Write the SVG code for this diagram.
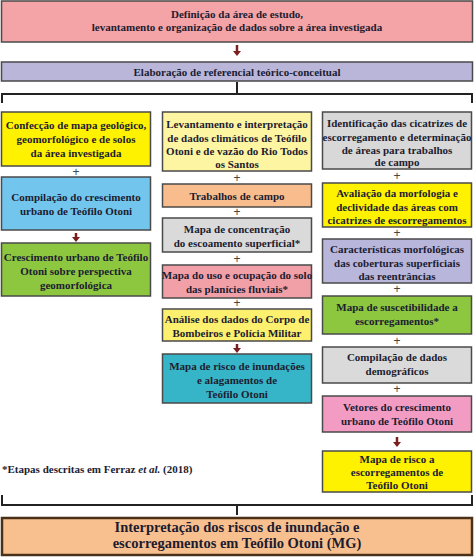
<svg xmlns="http://www.w3.org/2000/svg" width="474" height="557" viewBox="0 0 474 557">
<style>
.b{stroke:#4a4a4a;stroke-width:1.5}
.t{font-family:"Liberation Serif","Times New Roman",serif;font-weight:bold;font-size:11px;fill:#1c1c30;text-anchor:middle}
.p{font-family:"Liberation Sans",Arial,sans-serif;font-size:12px;fill:#444;text-anchor:middle}
.c{stroke:#222;stroke-width:2;fill:none}
.a{stroke:#7a1f1f;stroke-width:2.5;fill:none}
</style>
<rect width="474" height="557" fill="#fff"/>
<g id="connectors">
<line class="a" x1="237" y1="45" x2="237" y2="52"/><path d="M233,51 L241,51 L237,56 z" fill="#7a1f1f"/>
<path class="c" d="M237,82 V94 M2,103 V94 H472 V103"/>
<path class="c" d="M2,495 V505 H472 V495 M237,505 V515"/>
<line class="a" x1="76" y1="233" x2="76" y2="238"/><path d="M72,237 L80,237 L76,242 z" fill="#7a1f1f"/>
<line class="a" x1="237" y1="344" x2="237" y2="349"/><path d="M233,348 L241,348 L237,353 z" fill="#7a1f1f"/>
<line class="a" x1="397" y1="437" x2="397" y2="443"/><path d="M393,442 L401,442 L397,447 z" fill="#7a1f1f"/>
<text class="p" x="76" y="176">+</text>
<text class="p" x="237" y="182">+</text>
<text class="p" x="237" y="216">+</text>
<text class="p" x="237" y="263">+</text>
<text class="p" x="237" y="307">+</text>
<text class="p" x="397" y="180">+</text>
<text class="p" x="397" y="237">+</text>
<text class="p" x="397" y="293">+</text>
<text class="p" x="397" y="345">+</text>
<text class="p" x="397" y="393">+</text>
</g>
<g id="n_top"><rect class="b" x="1.5" y="1" width="471" height="41" fill="#f4a3a6"/>
<text class="t" x="237" y="18">Definição da área de estudo,</text>
<text class="t" x="237" y="31">levantamento e organização de dados sobre a área investigada</text></g>
<g id="n_ref"><rect class="b" x="1.5" y="62" width="471" height="19" fill="#b9b6da"/>
<text class="t" x="237" y="75.5">Elaboração de referencial teórico-conceitual</text></g>

<g id="n_l1"><rect class="b" x="1.5" y="112" width="149" height="54" fill="#fff200"/>
<text class="t" x="76" y="129">Confecção de mapa geológico,</text>
<text class="t" x="76" y="143">geomorfológico e de solos</text>
<text class="t" x="76" y="157">da área investigada</text></g>
<g id="n_l2"><rect class="b" x="1.5" y="177" width="149" height="53" fill="#72c6ee"/>
<text class="t" x="76" y="201">Compilação do crescimento</text>
<text class="t" x="76" y="215">urbano de Teófilo Otoni</text></g>
<g id="n_l3"><rect class="b" x="1.5" y="243" width="149" height="53" fill="#8dc63f"/>
<text class="t" x="76" y="261">Crescimento urbano de Teófilo</text>
<text class="t" x="76" y="275">Otoni sobre perspectiva</text>
<text class="t" x="76" y="289">geomorfológica</text></g>

<g id="n_m1"><rect class="b" x="162.5" y="112" width="149" height="59" fill="#fdf5a2"/>
<text class="t" x="237" y="128">Levantamento e interpretação</text>
<text class="t" x="237" y="141.5">de dados climáticos de Teófilo</text>
<text class="t" x="237" y="155">Otoni  e de vazão do Rio Todos</text>
<text class="t" x="237" y="168">os Santos</text></g>
<g id="n_m2"><rect class="b" x="162.5" y="184" width="149" height="23" fill="#f9bc8c"/>
<text class="t" x="237" y="199.5">Trabalhos de campo</text></g>
<g id="n_m3"><rect class="b" x="162.5" y="218" width="149" height="34" fill="#dadada"/>
<text class="t" x="237" y="233">Mapa de concentração</text>
<text class="t" x="237" y="247">do escoamento superficial*</text></g>
<g id="n_m4"><rect class="b" x="162.5" y="265" width="149" height="33" fill="#f1a0a8"/>
<text class="t" x="237" y="279">Mapa do uso e ocupação do solo</text>
<text class="t" x="237" y="293">das planícies fluviais*</text></g>
<g id="n_m5"><rect class="b" x="162.5" y="309" width="149" height="32" fill="#fdf06e"/>
<text class="t" x="237" y="323">Análise dos dados do Corpo de</text>
<text class="t" x="237" y="337">Bombeiros e Polícia Militar</text></g>
<g id="n_m6"><rect class="b" x="162.5" y="354" width="149" height="49" fill="#37b5c8"/>
<text class="t" x="237" y="370">Mapa de risco de inundações</text>
<text class="t" x="237" y="384">e alagamentos de</text>
<text class="t" x="237" y="398">Teófilo Otoni</text></g>

<g id="n_r1"><rect class="b" x="322.5" y="112" width="149" height="57" fill="#d8d8d8"/>
<text class="t" x="397" y="127">Identificação das cicatrizes de</text>
<text class="t" x="397" y="140.5">escorregamento e determinação</text>
<text class="t" x="397" y="154">de áreas para trabalhos</text>
<text class="t" x="397" y="166">de campo</text></g>
<g id="n_r2"><rect class="b" x="322.5" y="183" width="149" height="44" fill="#fff200"/>
<text class="t" x="397" y="197">Avaliação da morfologia e</text>
<text class="t" x="397" y="210.5">declividade das áreas com</text>
<text class="t" x="397" y="224">cicatrizes de escorregamentos</text></g>
<g id="n_r3"><rect class="b" x="322.5" y="239" width="149" height="44" fill="#b9b6dc"/>
<text class="t" x="397" y="253">Características morfológicas</text>
<text class="t" x="397" y="266.5">das coberturas superficiais</text>
<text class="t" x="397" y="280">das reentrâncias</text></g>
<g id="n_r4"><rect class="b" x="322.5" y="296" width="149" height="38" fill="#8dc63f"/>
<text class="t" x="397" y="311">Mapa de suscetibilidade a</text>
<text class="t" x="397" y="325">escorregamentos*</text></g>
<g id="n_r5"><rect class="b" x="322.5" y="347" width="149" height="36" fill="#dadada"/>
<text class="t" x="397" y="361">Compilação de dados</text>
<text class="t" x="397" y="375">demográficos</text></g>
<g id="n_r6"><rect class="b" x="322.5" y="396" width="149" height="36" fill="#f39cc3"/>
<text class="t" x="397" y="411">Vetores do crescimento</text>
<text class="t" x="397" y="425">urbano de Teófilo Otoni</text></g>
<g id="n_r7"><rect class="b" x="322.5" y="451" width="149" height="41" fill="#fff200"/>
<text class="t" x="397" y="463">Mapa de risco a</text>
<text class="t" x="397" y="476">escorregamentos de</text>
<text class="t" x="397" y="489">Teófilo Otoni</text></g>

<g id="note"><text class="t" x="2" y="473" style="text-anchor:start">*Etapas descritas em  Ferraz <tspan font-style="italic">et al.</tspan> (2018)</text></g>

<g id="n_bottom"><rect x="2" y="518" width="470" height="37" fill="#f9c08f" stroke="#4a3018" stroke-width="2.5"/>
<text class="t" x="237" y="532" style="font-size:14.5px">Interpretação dos riscos de inundação e</text>
<text class="t" x="237" y="548" style="font-size:14.5px">escorregamentos em Teófilo Otoni (MG)</text></g>
</svg>
